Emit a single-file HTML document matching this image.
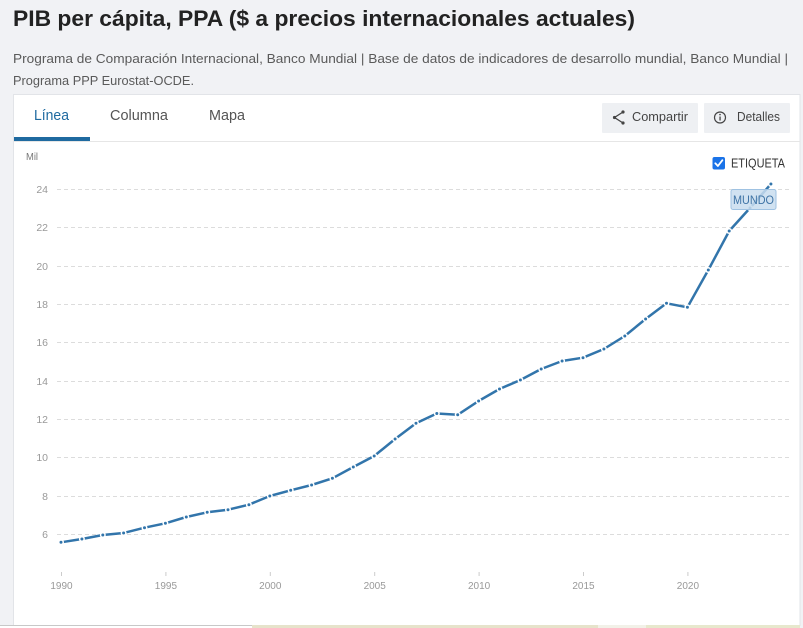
<!DOCTYPE html>
<html><head><meta charset="utf-8"><style>
html,body{margin:0;padding:0;background:#f1f2f5;}
svg{display:block;}
text{font-family:"Liberation Sans",sans-serif;}
</style></head><body>
<svg width="803" height="628" viewBox="0 0 803 628" xmlns="http://www.w3.org/2000/svg">
<rect x="0" y="0" width="803" height="628" fill="#f1f2f5"/>
<!-- title -->
<text x="13" y="26" font-size="22" font-weight="bold" fill="#222" textLength="622" lengthAdjust="spacingAndGlyphs">PIB per cápita, PPA ($ a precios internacionales actuales)</text>
<text x="13" y="63" font-size="13" fill="#5a5a5a" textLength="775" lengthAdjust="spacingAndGlyphs">Programa de Comparación Internacional, Banco Mundial | Base de datos de indicadores de desarrollo mundial, Banco Mundial |</text>
<text x="13" y="85" font-size="13" fill="#5a5a5a" textLength="181" lengthAdjust="spacingAndGlyphs">Programa PPP Eurostat-OCDE.</text>
<!-- panel -->
<rect x="13.5" y="94.5" width="786.5" height="531" fill="#ffffff" stroke="#e2e4e8" stroke-width="1"/>
<!-- tabs -->
<line x1="14" y1="141.5" x2="800" y2="141.5" stroke="#e6e6e6" stroke-width="1"/>
<rect x="14" y="137" width="76" height="4" fill="#1f6aa0"/>
<text x="34" y="120" font-size="14.5" fill="#1f6aa0" textLength="35" lengthAdjust="spacingAndGlyphs">Línea</text>
<text x="110" y="120" font-size="14.5" fill="#555" textLength="58" lengthAdjust="spacingAndGlyphs">Columna</text>
<text x="209" y="120" font-size="14.5" fill="#555" textLength="36" lengthAdjust="spacingAndGlyphs">Mapa</text>
<!-- buttons -->
<rect x="602" y="103" width="96" height="30" fill="#eef0f3" rx="1"/>
<g stroke="#444" stroke-width="1.3" fill="none"><polyline points="623,112 614.5,117.5 623,123"/></g>
<circle cx="623" cy="112" r="1.6" fill="#444"/><circle cx="614.5" cy="117.5" r="1.6" fill="#444"/><circle cx="623" cy="123" r="1.6" fill="#444"/>
<text x="632" y="121" font-size="13" fill="#444" textLength="56" lengthAdjust="spacingAndGlyphs">Compartir</text>
<rect x="704" y="103" width="86" height="30" fill="#eef0f3" rx="1"/>
<circle cx="720" cy="117.5" r="5.5" fill="none" stroke="#444" stroke-width="1.2"/>
<rect x="719.4" y="116.5" width="1.3" height="4" fill="#444"/><circle cx="720" cy="114.6" r="0.8" fill="#444"/>
<text x="737" y="121" font-size="13" fill="#444" textLength="43" lengthAdjust="spacingAndGlyphs">Detalles</text>
<!-- y axis label -->
<text x="26" y="160" font-size="10" fill="#777" textLength="12" lengthAdjust="spacingAndGlyphs">Mil</text>
<!-- gridlines & y labels -->
<g stroke="#dcdcdc" stroke-width="1" stroke-dasharray="4,3">
<line x1="57" y1="189.5" x2="791" y2="189.5"/>
<line x1="57" y1="227.5" x2="791" y2="227.5"/>
<line x1="57" y1="266.5" x2="791" y2="266.5"/>
<line x1="57" y1="304.5" x2="791" y2="304.5"/>
<line x1="57" y1="342.5" x2="791" y2="342.5"/>
<line x1="57" y1="381.5" x2="791" y2="381.5"/>
<line x1="57" y1="419.5" x2="791" y2="419.5"/>
<line x1="57" y1="457.5" x2="791" y2="457.5"/>
<line x1="57" y1="496.5" x2="791" y2="496.5"/>
<line x1="57" y1="534.5" x2="791" y2="534.5"/>
</g>
<g font-size="10.5" fill="#999" text-anchor="end">
<text x="48" y="193">24</text>
<text x="48" y="231">22</text>
<text x="48" y="270">20</text>
<text x="48" y="308">18</text>
<text x="48" y="346">16</text>
<text x="48" y="385">14</text>
<text x="48" y="423">12</text>
<text x="48" y="461">10</text>
<text x="48" y="500">8</text>
<text x="48" y="538">6</text>
</g>
<!-- x ticks and labels -->
<g stroke="#cccccc" stroke-width="1">
<line x1="61.5" y1="572" x2="61.5" y2="576"/>
<line x1="165.9" y1="572" x2="165.9" y2="576"/>
<line x1="270.3" y1="572" x2="270.3" y2="576"/>
<line x1="374.7" y1="572" x2="374.7" y2="576"/>
<line x1="479.1" y1="572" x2="479.1" y2="576"/>
<line x1="583.5" y1="572" x2="583.5" y2="576"/>
<line x1="687.9" y1="572" x2="687.9" y2="576"/>
</g>
<g font-size="10" fill="#999" text-anchor="middle">
<text x="61.5" y="589">1990</text>
<text x="165.9" y="589">1995</text>
<text x="270.3" y="589">2000</text>
<text x="374.7" y="589">2005</text>
<text x="479.1" y="589">2010</text>
<text x="583.5" y="589">2015</text>
<text x="687.9" y="589">2020</text>
</g>
<!-- series -->
<polyline fill="none" stroke="#3275ab" stroke-width="2.5" stroke-linejoin="round" points="61,542.3 81.9,539 102.8,535 123.6,533 144.5,527.7 165.4,523.3 186.3,517 207.2,512.3 228,509.7 248.9,504.7 269.8,496 290.7,490.3 311.6,485 332.4,478.3 353.3,467 374.2,456 395.1,439 416,423.3 436.8,413.5 457.7,414.8 478.6,401 499.5,389 520.4,380 541.2,369 562.1,361 583,357.7 603.9,349 624.8,336 645.6,319 666.5,303.3 687.4,307.3 708.3,270 729.2,231 750,208 770.9,184"/>
<g id="m">
</g>
<g fill="#ffffff">
<circle cx="61" cy="542.3" r="3"/><circle cx="81.9" cy="539" r="3"/><circle cx="102.8" cy="535" r="3"/><circle cx="123.6" cy="533" r="3"/><circle cx="144.5" cy="527.7" r="3"/><circle cx="165.4" cy="523.3" r="3"/><circle cx="186.3" cy="517" r="3"/><circle cx="207.2" cy="512.3" r="3"/><circle cx="228" cy="509.7" r="3"/><circle cx="248.9" cy="504.7" r="3"/><circle cx="269.8" cy="496" r="3"/><circle cx="290.7" cy="490.3" r="3"/><circle cx="311.6" cy="485" r="3"/><circle cx="332.4" cy="478.3" r="3"/><circle cx="353.3" cy="467" r="3"/><circle cx="374.2" cy="456" r="3"/><circle cx="395.1" cy="439" r="3"/><circle cx="416" cy="423.3" r="3"/><circle cx="436.8" cy="413.5" r="3"/><circle cx="457.7" cy="414.8" r="3"/><circle cx="478.6" cy="401" r="3"/><circle cx="499.5" cy="389" r="3"/><circle cx="520.4" cy="380" r="3"/><circle cx="541.2" cy="369" r="3"/><circle cx="562.1" cy="361" r="3"/><circle cx="583" cy="357.7" r="3"/><circle cx="603.9" cy="349" r="3"/><circle cx="624.8" cy="336" r="3"/><circle cx="645.6" cy="319" r="3"/><circle cx="666.5" cy="303.3" r="3"/><circle cx="687.4" cy="307.3" r="3"/><circle cx="708.3" cy="270" r="3"/><circle cx="729.2" cy="231" r="3"/><circle cx="750" cy="208" r="3"/><circle cx="770.9" cy="184" r="3"/>
</g>
<g fill="#3275ab">
<circle cx="61" cy="542.3" r="1.5"/><circle cx="81.9" cy="539" r="1.5"/><circle cx="102.8" cy="535" r="1.5"/><circle cx="123.6" cy="533" r="1.5"/><circle cx="144.5" cy="527.7" r="1.5"/><circle cx="165.4" cy="523.3" r="1.5"/><circle cx="186.3" cy="517" r="1.5"/><circle cx="207.2" cy="512.3" r="1.5"/><circle cx="228" cy="509.7" r="1.5"/><circle cx="248.9" cy="504.7" r="1.5"/><circle cx="269.8" cy="496" r="1.5"/><circle cx="290.7" cy="490.3" r="1.5"/><circle cx="311.6" cy="485" r="1.5"/><circle cx="332.4" cy="478.3" r="1.5"/><circle cx="353.3" cy="467" r="1.5"/><circle cx="374.2" cy="456" r="1.5"/><circle cx="395.1" cy="439" r="1.5"/><circle cx="416" cy="423.3" r="1.5"/><circle cx="436.8" cy="413.5" r="1.5"/><circle cx="457.7" cy="414.8" r="1.5"/><circle cx="478.6" cy="401" r="1.5"/><circle cx="499.5" cy="389" r="1.5"/><circle cx="520.4" cy="380" r="1.5"/><circle cx="541.2" cy="369" r="1.5"/><circle cx="562.1" cy="361" r="1.5"/><circle cx="583" cy="357.7" r="1.5"/><circle cx="603.9" cy="349" r="1.5"/><circle cx="624.8" cy="336" r="1.5"/><circle cx="645.6" cy="319" r="1.5"/><circle cx="666.5" cy="303.3" r="1.5"/><circle cx="687.4" cy="307.3" r="1.5"/><circle cx="708.3" cy="270" r="1.5"/><circle cx="729.2" cy="231" r="1.5"/><circle cx="750" cy="208" r="1.5"/><circle cx="770.9" cy="184" r="1.5"/>
</g>
<!-- MUNDO label -->
<rect x="731" y="189.5" width="45" height="20" rx="2" fill="#c9ddef" fill-opacity="0.85" stroke="#9fc2e2" stroke-width="1"/>
<text x="733" y="204" font-size="12" fill="#3f74a6" textLength="41" lengthAdjust="spacingAndGlyphs">MUNDO</text>
<!-- checkbox -->
<rect x="712.5" y="157" width="12.5" height="12.5" rx="2" fill="#1a73e8"/>
<polyline points="715.3,163.3 717.9,166 722.4,160.2" fill="none" stroke="#fff" stroke-width="1.8" stroke-linecap="round" stroke-linejoin="round"/>
<text x="731" y="167.3" font-size="12.5" fill="#333" textLength="54" lengthAdjust="spacingAndGlyphs">ETIQUETA</text>
<!-- bottom strip -->
<rect x="0" y="625" width="252" height="1" fill="#c8c8c8"/>
<rect x="0" y="626" width="252" height="2" fill="#ffffff"/>
<rect x="252" y="625" width="346" height="3" fill="#e6e3cb"/>
<rect x="598" y="625" width="48" height="3" fill="#f2f1e8"/>
<rect x="646" y="625" width="154" height="3" fill="#e7e8cd"/>
</svg>
</body></html>
